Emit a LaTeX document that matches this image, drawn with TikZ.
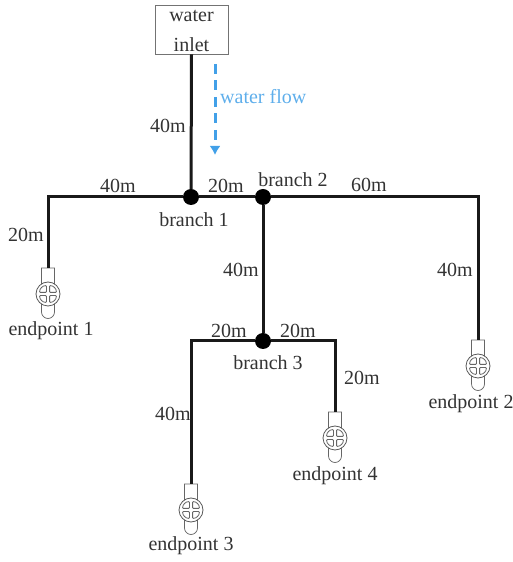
\documentclass[tikz,border=0pt]{standalone}
\usepackage{fontspec}
\setmainfont{Liberation Serif}
\usetikzlibrary{arrows.meta}
\definecolor{flowblue}{RGB}{66,160,232}
\tikzset{
	pipe/.style={line width=3pt, black!90},
	joint/.style={circle, fill=black, inner sep=0pt, minimum size=16pt},
	valve/.pic={
		\draw[black!60, line width=0.7pt, fill=white] (-6.5,0) -- (-6.5,-44) arc[start angle=180, end angle=360, radius=6.5] -- (6.5,0) -- cycle;
		\draw[black!65, line width=0.8pt, fill=white] (0,-26) circle (12);
		\foreach \ang in {0,90,180,270} {
			\draw[rotate around={\ang:(0,-26)}, black!60, line width=0.8pt, rounded corners=0.8pt] (1.6,-24.4) -- (8.4,-24.4) arc[start angle=0, end angle=90, radius=6.8] -- cycle;
		}
	}
}
\begin{document}
\begin{tikzpicture}[x=1pt, y=1pt, every node/.style={font=\fontsize{20}{22}\selectfont, text=black!80, inner sep=0pt}]
	\useasboundingbox (0,0) rectangle (513,562);
	\node[draw=black!55, fill=white, line width=0.8pt, minimum width=73pt, minimum height=49pt] (inlet) at (191.5,532.5) {};
	\node (inlet1) at (191.5,546) {water};
	\node (inlet2) at (191.5,517) {inlet};

	\node[joint] (branch1) at (191,365) {};
	\node[joint] (branch2) at (263,365) {};
	\node[joint] (branch3) at (263,221) {};
	\coordinate (end1) at (48,294);
	\coordinate (end2) at (478,222);
	\coordinate (end3) at (191,78);
	\coordinate (end4) at (335,150);

	\draw[pipe] (inlet.south) -- (branch1);
	\draw[pipe] (branch1) -- (branch2);
	\draw[pipe] (branch2) -- (branch3);
	\draw[pipe] (end1) |- (branch1);
	\draw[pipe] (end2) |- (branch2);
	\draw[pipe] (end3) |- (branch3);
	\draw[pipe] (end4) |- (branch3);

	\pic at (end1) {valve};
	\pic at (end2) {valve};
	\pic at (end3) {valve};
	\pic at (end4) {valve};
	\draw[pipe] (end1) -- ++(0,9);
	\draw[pipe] (end2) -- ++(0,9);
	\draw[pipe] (end3) -- ++(0,9);
	\draw[pipe] (end4) -- ++(0,9);

	% water flow
	\coordinate (flowtop) at (215,498);
	\coordinate (flowend) at (215,407);
	\draw[flowblue, line width=3pt, dash pattern=on 10pt off 6.5pt, -{Latex[length=9pt,width=11pt]}] (flowtop) -- (flowend);
	\node[text=flowblue!85!white, anchor=west] (flow) at (220,465) {water flow};

	% lengths
	\node (l1) at (168,436) {40m};
	\node (l2) at (118,376) {40m};
	\node (l3) at (226,376) {20m};
	\node (l4) at (369,377) {60m};
	\node (l5) at (26,327) {20m};
	\node (l6) at (241,292) {40m};
	\node (l7) at (455,292) {40m};
	\node (l8) at (229,231) {20m};
	\node (l9) at (298,231) {20m};
	\node (l10) at (362,184) {20m};
	\node (l11) at (173,148) {40m};

	% names
	\node (b1) at (194,342) {branch 1};
	\node (b2) at (293,382) {branch 2};
	\node (b3) at (268,199) {branch 3};
	\node (e1) at (51,231) {endpoint 1};
	\node (e2) at (471,158) {endpoint 2};
	\node (e3) at (191,16) {endpoint 3};
	\node (e4) at (335,86) {endpoint 4};
\end{tikzpicture}
\end{document}
